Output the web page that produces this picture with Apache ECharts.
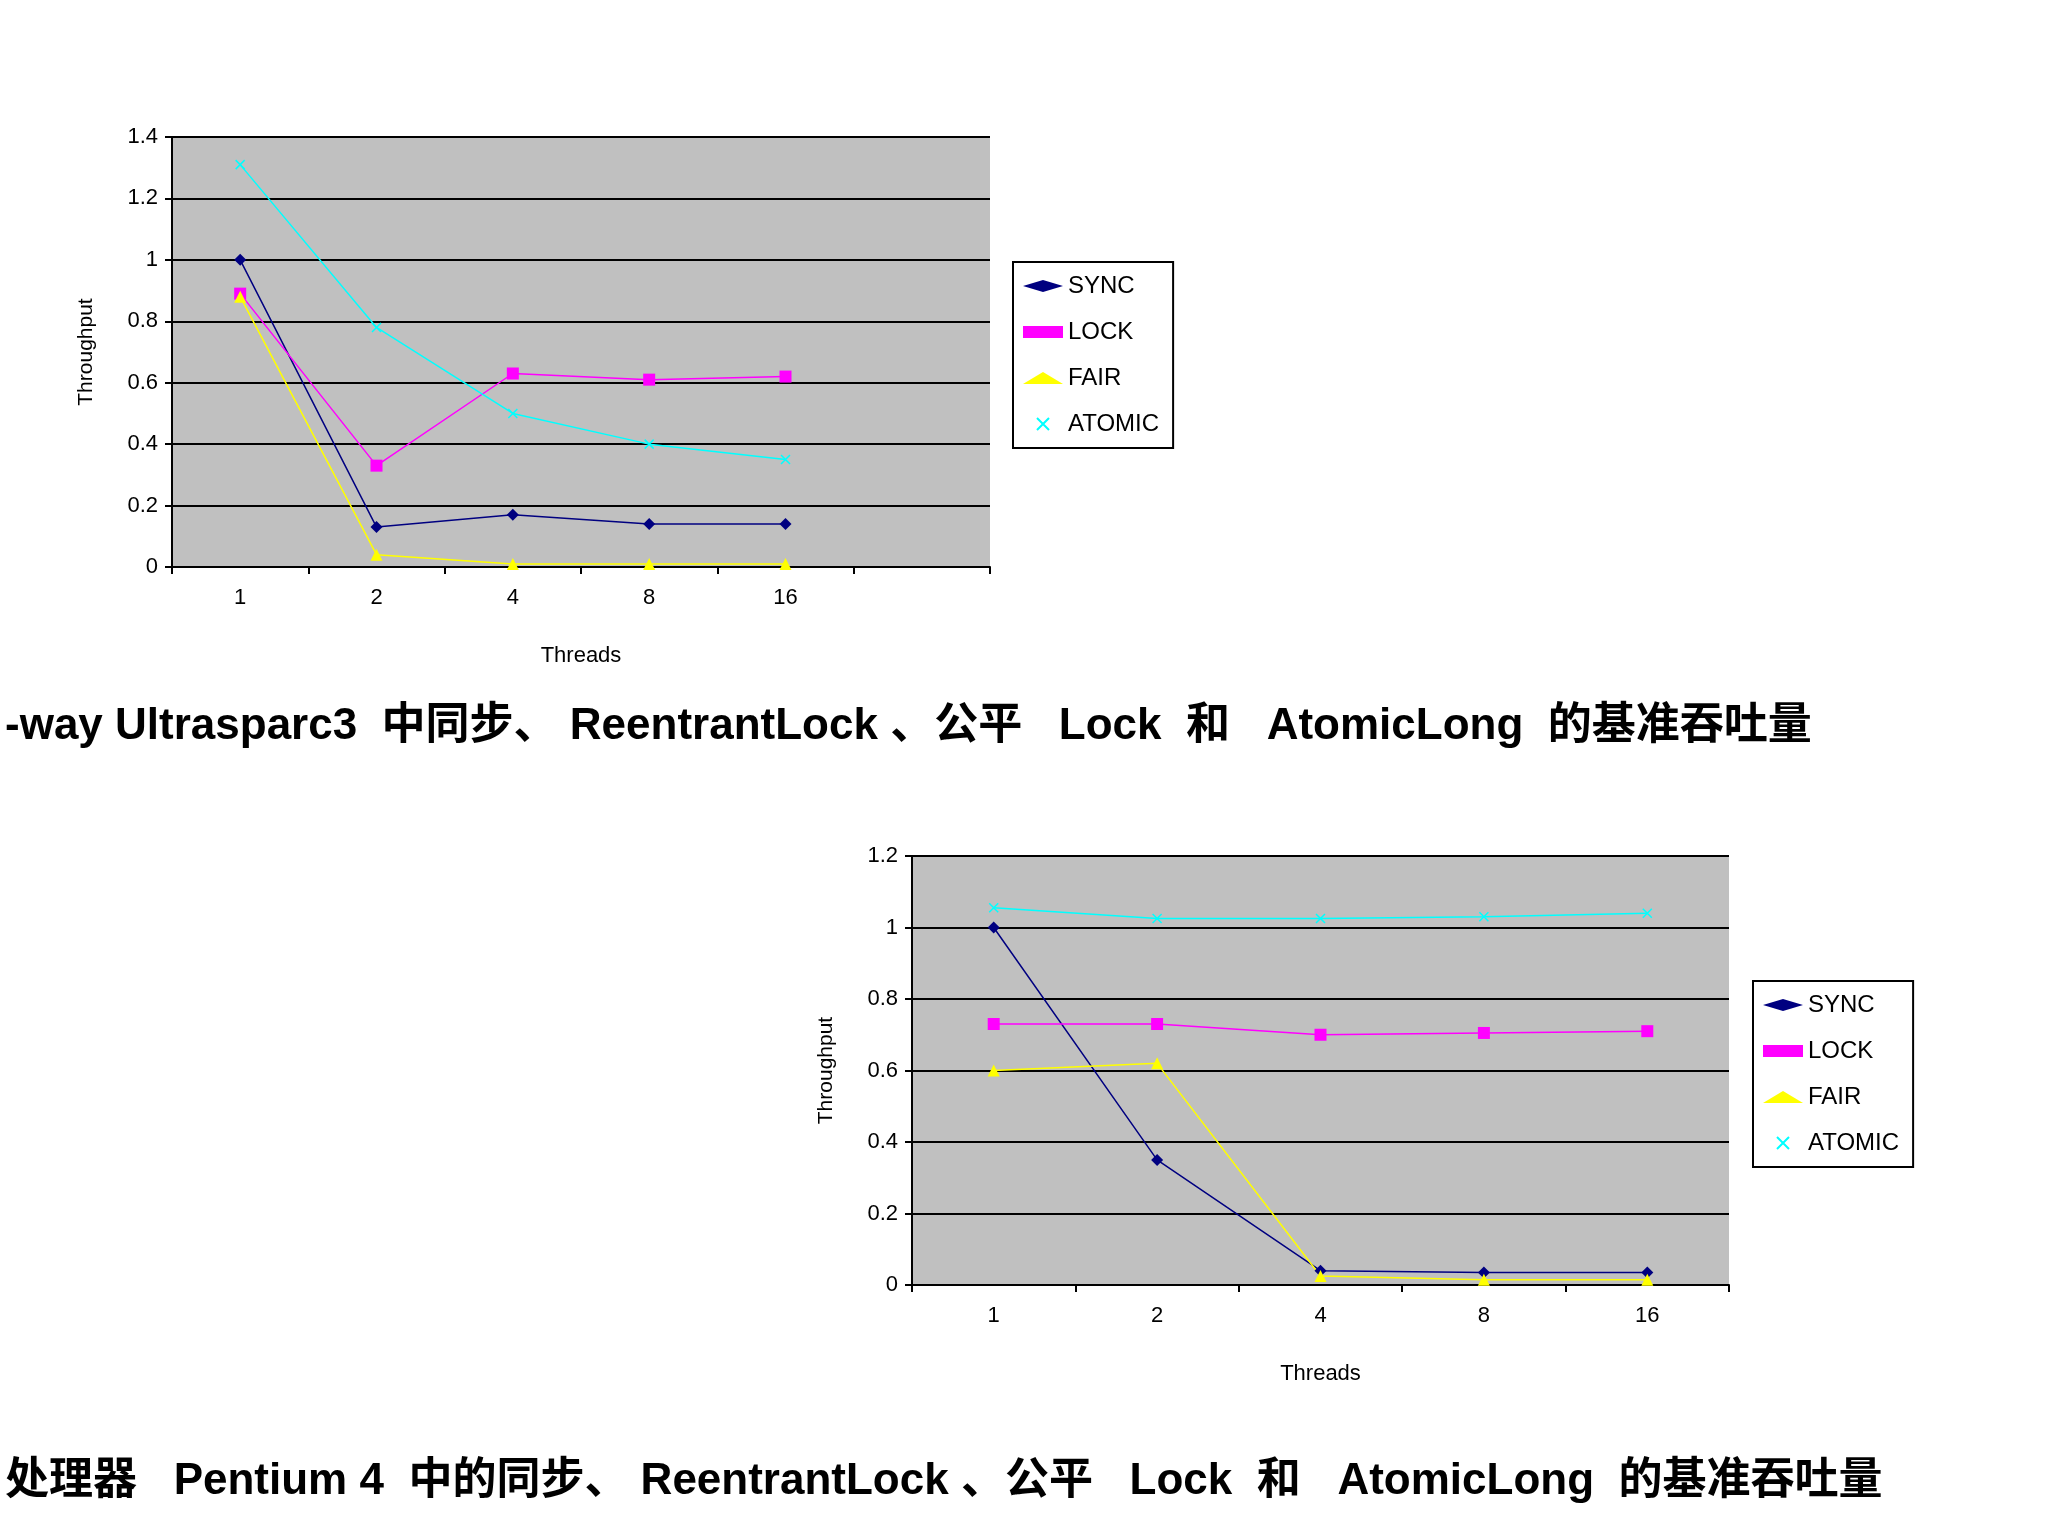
<!DOCTYPE html>
<html>
<head>
<meta charset="utf-8">
<script src="https://cdn.jsdelivr.net/npm/echarts@6/dist/echarts.min.js"></script>
<style>body{margin:0;background:#fff}#main{width:2048px;height:1536px}</style>
</head>
<body>
<div id="main"></div>
<script>
var myChart = echarts.init(document.getElementById('main'));

// 数据
const threads1 = ['1', '2', '4', '8', '16', ''];
const threads2 = ['1', '2', '4', '8', '16'];
const names = ['SYNC', 'LOCK', 'FAIR', 'ATOMIC'];
const colors = ['#000080', '#ff00ff', '#ffff00', '#00ffff'];
const sync1 = [1.0, 0.13, 0.17, 0.14, 0.14];
const lock1 = [0.89, 0.33, 0.63, 0.61, 0.62];
const fair1 = [0.88, 0.04, 0.01, 0.01, 0.01];
const atomic1 = [1.31, 0.78, 0.50, 0.40, 0.35];
const sync2 = [1.0, 0.35, 0.04, 0.035, 0.035];
const lock2 = [0.73, 0.73, 0.70, 0.705, 0.71];
const fair2 = [0.60, 0.62, 0.025, 0.015, 0.015];
const atomic2 = [1.055, 1.025, 1.025, 1.03, 1.04];
const caption1 = '-way Ultrasparc3  中同步、 ReentrantLock 、公平   Lock  和   AtomicLong  的基准吞吐量';
const caption2 = '处理器   Pentium 4  中的同步、 ReentrantLock 、公平   Lock  和   AtomicLong  的基准吞吐量';

const font = '"Liberation Sans", Arial, "Noto Sans CJK SC"';
const crossPath = 'path://M0,0L10,10M10,0L0,10';
const symbols = ['diamond', 'rect', 'triangle', crossPath];

function xAxis(idx, cats) {
    return {
        type: 'category', gridIndex: idx, data: cats, boundaryGap: true,
        axisLine: { lineStyle: { color: '#000', width: 2 } },
        axisTick: { show: true, length: 7, lineStyle: { color: '#000', width: 2 } },
        axisLabel: { color: '#000', fontSize: 22, fontFamily: font, margin: 20 },
        name: 'Threads', nameLocation: 'middle', nameGap: 78,
        nameTextStyle: { color: '#000', fontSize: 22, fontFamily: font }
    };
}
function yAxis(idx, max) {
    return {
        type: 'value', gridIndex: idx, min: 0, max: max, interval: 0.2,
        axisLine: { show: true, lineStyle: { color: '#000', width: 2 } },
        axisTick: { show: true, length: 7, lineStyle: { color: '#000', width: 2 } },
        splitLine: { lineStyle: { color: '#000', width: 2 } },
        axisLabel: { color: '#000', fontSize: 22, fontFamily: font, margin: 14 },
        name: 'Throughput', nameLocation: 'middle', nameGap: 75, nameRotate: 90,
        nameTextStyle: { color: '#000', fontSize: 21, fontFamily: font }
    };
}
function line(name, i, data, idx) {
    return {
        name: name, type: 'line', xAxisIndex: idx, yAxisIndex: idx, data: data,
        symbol: symbols[i], symbolSize: i === 3 ? 9 : 12,
        itemStyle: { color: colors[i], borderColor: colors[i], borderWidth: i === 3 ? 1.5 : 0 },
        lineStyle: { color: colors[i], width: 1.5 }, animation: false
    };
}
function legend(left, top) {
    return {
        orient: 'vertical', left: left, top: top, data: names.map((n, i) => ({ name: n, icon: symbols[i] })),
        borderColor: '#000', borderWidth: 2, padding: [12, 14, 12, 10], itemGap: 22,
        itemWidth: 40, itemHeight: 12, backgroundColor: '#fff',
        textStyle: { color: '#000', fontSize: 24, fontFamily: font }
    };
}

const option = {
    backgroundColor: '#fff',
    title: [
        { text: caption1, left: 0, top: 700, textStyle: { fontSize: 44, fontWeight: 'bold', fontFamily: font, color: '#000' } },
        { text: caption2, left: 0, top: 1455, textStyle: { fontSize: 44, fontWeight: 'bold', fontFamily: font, color: '#000' } }
    ],
    legend: [legend(1013, 262), legend(1753, 981)],
    grid: [
        { left: 172, top: 137, width: 818, height: 430, backgroundColor: '#c0c0c0', show: true, borderWidth: 0 },
        { left: 912, top: 856, width: 817, height: 429, backgroundColor: '#c0c0c0', show: true, borderWidth: 0 }
    ],
    xAxis: [xAxis(0, threads1), xAxis(1, threads2)],
    yAxis: [yAxis(0, 1.4), yAxis(1, 1.2)],
    series: [
        line('SYNC', 0, sync1, 0), line('LOCK', 1, lock1, 0), line('FAIR', 2, fair1, 0), line('ATOMIC', 3, atomic1, 0),
        line('SYNC', 0, sync2, 1), line('LOCK', 1, lock2, 1), line('FAIR', 2, fair2, 1), line('ATOMIC', 3, atomic2, 1)
    ]
};

myChart.setOption(option);
</script>
</body>
</html>
